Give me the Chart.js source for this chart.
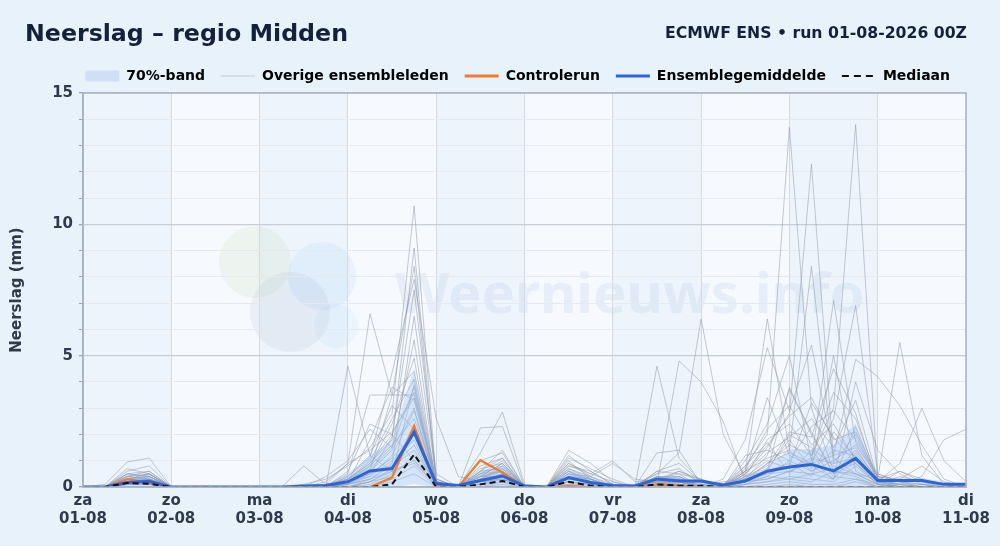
<!DOCTYPE html>
<html lang="nl">
<head>
<meta charset="utf-8">
<title>Neerslag – regio Midden</title>
<script src="https://cdn.jsdelivr.net/npm/chart.js@4.4.1/dist/chart.umd.min.js"></script>
<style>
  html, body { margin: 0; padding: 0; }
  body {
    width: 1000px; height: 546px; overflow: hidden; position: relative;
    background: #e8f2fb; font-family: "DejaVu Sans", sans-serif;
  }
  h1 {
    position: absolute; left: 25px; top: 19px; margin: 0;
    font-size: 23.7px; font-weight: bold; color: #15213a;
  }
  .run {
    position: absolute; right: 33px; top: 23px;
    font-size: 15.7px; font-weight: bold; color: #15213a;
  }
  .wrap { position: absolute; left: 0; top: 0; width: 1000px; height: 546px; }
</style>
</head>
<body>
<div class="wrap"><canvas id="myChart"></canvas></div>
<h1>Neerslag – regio Midden</h1>
<div class="run">ECMWF ENS • run 01-08-2026 00Z</div>
<script>
"use strict";

// hours since run start (01-08 00Z), 6-hourly
const hours = [0, 6, 12, 18, 24, 30, 36, 42, 48, 54, 60, 66, 72, 78, 84, 90, 96, 102, 108, 114,
  120, 126, 132, 138, 144, 150, 156, 162, 168, 174, 180, 186, 192, 198, 204, 210, 216, 222, 228, 234, 240];

const dayNames = ["za", "zo", "ma", "di", "wo", "do", "vr", "za", "zo", "ma", "di"];
const dayDates = ["01-08", "02-08", "03-08", "04-08", "05-08", "06-08", "07-08", "08-08", "09-08", "10-08", "11-08"];
const yLabels = [0, 5, 10, 15];

// mm per 6 hours
const meanRun = [0, 0, 0.17, 0.22, 0, 0, 0, 0, 0, 0, 0.04, 0.06, 0.2, 0.61, 0.7, 2.09, 0.13, 0.06, 0.25, 0.42,
  0.04, 0, 0.36, 0.17, 0.06, 0.04, 0.3, 0.23, 0.23, 0.08, 0.23, 0.6, 0.76, 0.86, 0.61, 1.09, 0.25, 0.25, 0.25, 0.1, 0.1];
const medianRun = [0, 0, 0.15, 0.12, 0, 0, 0, 0, 0, 0, 0, 0, 0, 0, 0.1, 1.24, 0, 0, 0.1, 0.23,
  0, 0, 0.2, 0.05, 0, 0, 0.1, 0.05, 0.05, 0, 0, 0, 0, 0, 0, 0, 0, 0, 0, 0, 0];
const controlRun = [0, 0, 0.3, 0.15, 0, 0, 0, 0, 0, 0, 0, 0, 0, 0, 0.36, 2.32, 0.05, 0, 1.02, 0.55,
  0, 0, 0.03, 0, 0, 0, 0.1, 0.05, 0, 0, 0, 0, 0, 0, 0, 0, 0, 0, 0, 0, 0];
const bandLow = [0, 0, 0, 0, 0, 0, 0, 0, 0, 0, 0, 0, 0, 0, 0, 0.1, 0, 0, 0, 0,
  0, 0, 0, 0, 0, 0, 0, 0, 0, 0, 0, 0, 0, 0, 0, 0, 0, 0, 0, 0, 0];
const bandHigh = [0, 0.05, 0.45, 0.45, 0, 0, 0, 0, 0, 0, 0.05, 0.1, 0.5, 1.2, 1.8, 4.5, 0.25, 0, 0.6, 0.8,
  0.05, 0, 0.7, 0.4, 0.1, 0.05, 0.4, 0.4, 0.2, 0.1, 0.4, 0.75, 1.45, 1.45, 1.6, 2.4, 0.3, 0.3, 0.35, 0.2, 0.1];

const members = [
  [0, 0.1, 0.95, 1.1, 0, 0, 0, 0, 0, 0, 0.1, 0.3, 0.8, 1.5, 2.8, 10.7, 0.3, 0, 0.4, 0.9, 0, 0, 0.5, 0.3, 0, 0, 0.3, 0.6, 0.2, 0, 0.3, 1.2, 3.7, 2.1, 0.5, 0.9, 0.2, 0, 0.1, 0, 0],
  [0, 0, 0.6, 0.8, 0, 0, 0, 0, 0, 0, 0, 0.1, 0.3, 0.9, 1.8, 9.1, 0.2, 0, 0.2, 0.5, 0, 0, 0.9, 0.4, 0, 0, 0.2, 0.1, 0, 0.1, 0.8, 2.0, 13.7, 3.0, 0.6, 0.4, 0, 0, 0, 0, 0],
  [0, 0, 0.5, 0.4, 0, 0, 0, 0, 0, 0, 0.8, 0.1, 0.2, 0.6, 3.5, 8.4, 0.1, 0, 0.3, 0.6, 0, 0, 1.4, 0.9, 0.2, 0, 0.1, 0.2, 0, 0, 0.5, 1.5, 2.8, 12.3, 1.1, 0.5, 0.3, 0.1, 0, 0, 0],
  [0, 0, 0.4, 0.6, 0, 0, 0, 0, 0, 0, 0, 0, 0.4, 1.1, 4.35, 7.9, 2.6, 0.4, 0.2, 0.3, 0, 0, 0.6, 0.2, 0, 0, 0.4, 0.3, 0.1, 0, 0.2, 0.9, 1.6, 1.2, 3.0, 13.8, 0.3, 0.6, 0.2, 0.1, 0],
  [0, 0, 0.3, 0.5, 0, 0, 0, 0, 0, 0, 0, 0, 4.6, 1.2, 0.6, 0.9, 0.1, 0, 1.3, 2.85, 0.1, 0, 0.3, 0.2, 0, 0.1, 0.5, 1.3, 6.4, 2.0, 0.4, 0.6, 2.0, 1.5, 0.8, 0.5, 0.1, 0, 0, 0, 0],
  [0, 0, 0.7, 0.5, 0, 0, 0, 0, 0, 0, 0, 0.2, 0.9, 6.6, 3.5, 3.5, 0.2, 0, 2.25, 2.3, 0, 0, 0.4, 0.1, 0, 0, 0.2, 0.1, 0, 0, 0.6, 6.4, 1.4, 8.4, 0.9, 1.1, 0.2, 0, 0, 0, 0],
  [0, 0, 0.2, 0.3, 0, 0, 0, 0, 0, 0, 0, 0, 0.2, 0.5, 1.9, 7.5, 0.5, 0, 0.1, 0.4, 0, 0, 1.2, 0.6, 0.1, 0, 4.6, 1.1, 0.2, 0, 1.0, 2.4, 5.0, 1.0, 7.1, 1.7, 0.4, 0, 0, 0, 0],
  [0, 0, 0.3, 0.2, 0, 0, 0, 0, 0, 0, 0, 0, 0.1, 0.3, 0.9, 6.5, 0.3, 0, 0.5, 1.0, 0, 0, 0.2, 0.1, 0, 0, 0.1, 4.8, 4.0, 2.5, 0.2, 0.3, 0.6, 0.9, 2.6, 6.9, 0.5, 0.2, 0, 0, 0],
  [0, 0, 0.4, 0.3, 0, 0, 0, 0, 0, 0, 0, 0, 0.3, 0.8, 2.4, 4.9, 0.1, 0, 0.6, 1.4, 0, 0, 0.8, 0.5, 1.0, 0.2, 0.3, 0.2, 0, 0.3, 1.8, 5.3, 2.9, 5.4, 1.2, 4.86, 4.2, 3.1, 1.6, 0.3, 0],
  [0, 0, 0.2, 0.3, 0, 0, 0, 0, 0, 0, 0, 0, 0.5, 3.5, 3.5, 4.4, 0.2, 0, 0.8, 1.1, 0, 0, 0.3, 0.2, 0, 0, 0.3, 0.4, 0, 0, 0.3, 0.6, 3.8, 2.0, 0.5, 1.4, 0.3, 5.5, 1.2, 0.1, 0],
  [0, 0, 0.3, 0.4, 0, 0, 0, 0, 0, 0, 0, 0.4, 1.0, 2.2, 1.5, 3.8, 0, 0, 0.3, 0.7, 0, 0, 1.0, 0.3, 0, 0, 0.2, 0.2, 0, 0, 0.1, 0.4, 1.0, 0.6, 1.4, 1.2, 0.2, 0.9, 3.0, 1.0, 0.2],
  [0, 0, 0.5, 0.6, 0, 0, 0, 0, 0, 0, 0, 0, 0.2, 1.8, 3.8, 3.3, 0.1, 0, 0.4, 0.6, 0, 0, 0.5, 0.4, 0.9, 0.3, 0.2, 0.3, 0.2, 0, 0.5, 3.4, 1.2, 0.8, 0.3, 2.3, 0.2, 0.1, 0.4, 1.8, 2.2],
  [0, 0, 0.1, 0.2, 0, 0, 0, 0, 0, 0, 0, 0, 0.1, 0.4, 1.2, 2.9, 0.2, 0, 0.2, 0.5, 0, 0, 0.2, 0.1, 0, 0, 0.3, 0.5, 0.3, 0, 0.4, 0.8, 2.1, 1.9, 4.5, 2.8, 0.1, 0, 0, 0, 0],
  [0, 0, 0.3, 0.2, 0, 0, 0, 0, 0, 0, 0, 0, 0, 0.2, 0.7, 2.3, 0, 0, 1.0, 1.3, 0, 0, 0.6, 0.2, 0, 0, 1.3, 1.4, 0.1, 0, 0.8, 1.7, 0.5, 1.4, 0.4, 0.3, 0.1, 0.4, 0.2, 0, 0],
  [0, 0, 0.2, 0.3, 0, 0, 0, 0, 0, 0, 0, 0, 0.3, 0.7, 1.5, 5.6, 0, 0, 0.2, 0.5, 0, 0, 0.7, 0.3, 0, 0, 0.4, 0.2, 0, 0, 0.2, 0.7, 1.8, 0.7, 5.0, 0.6, 0.2, 0, 0, 0, 0],
  [0, 0, 0.1, 0.1, 0, 0, 0, 0, 0, 0, 0, 0, 0, 0.1, 0.5, 3.9, 0.1, 0, 0.3, 0.8, 0, 0, 0.4, 0.3, 0, 0, 0.2, 0.3, 0, 0.2, 0.3, 0.5, 0.8, 3.2, 1.9, 0.9, 0.1, 0.6, 0.3, 0.1, 0],
  [0, 0, 0.2, 0.4, 0, 0, 0, 0, 0, 0, 0, 0, 0.1, 0.3, 0.8, 1.6, 0, 0, 0.1, 0.3, 0, 0, 0.2, 0.1, 0, 0, 0.1, 0.1, 0, 0, 0.2, 0.4, 0.3, 0.5, 0.3, 4.0, 1.4, 0.5, 0.1, 0, 0],
  [0, 0, 0.3, 0.2, 0, 0, 0, 0, 0, 0, 0, 0, 0.2, 0.5, 1.1, 2.0, 0, 0, 0.4, 0.4, 0, 0, 0.3, 0.2, 0, 0, 0.2, 0.4, 0, 0, 0.4, 1.0, 0.7, 1.1, 0.9, 2.0, 0.2, 0.3, 0.8, 0.2, 0],
  [0, 0, 0.1, 0.2, 0, 0, 0, 0, 0, 0, 0, 0, 0, 0.2, 0.4, 1.2, 0, 0, 0.1, 0.2, 0, 0, 0.1, 0, 0, 0, 0.1, 0.1, 0, 0, 0.1, 0.2, 0.4, 0.3, 0.2, 0.8, 0.1, 0, 0, 0, 0],
  [0, 0, 0.2, 0.1, 0, 0, 0, 0, 0, 0, 0, 0, 0, 0, 0.3, 0.8, 0, 0, 0, 0.1, 0, 0, 0.1, 0.1, 0, 0, 0, 0, 0, 0, 0, 0.1, 0.2, 0.1, 0.1, 0.3, 0, 0, 0, 0, 0],
  [0, 0, 0.4, 0.5, 0, 0, 0, 0, 0, 0, 0, 0, 0.6, 2.4, 2.0, 1.0, 0.2, 0, 0.7, 0.9, 0, 0, 0.8, 0.6, 0.1, 0, 0.6, 0.5, 0, 0.1, 0.6, 1.1, 1.4, 0.6, 1.0, 1.6, 0.4, 0.2, 0.1, 0, 0],
  [0, 0, 0.2, 0.2, 0, 0, 0, 0, 0, 0, 0, 0, 0.1, 0.6, 1.4, 3.0, 0, 0, 0.3, 0.4, 0, 0, 0.4, 0.3, 0, 0, 0.2, 0.2, 0, 0, 0.3, 0.6, 0.9, 0.4, 2.1, 1.1, 0.3, 0, 0, 0, 0],
  [0, 0, 0.1, 0.1, 0, 0, 0, 0, 0, 0, 0, 0, 0, 0, 0.2, 0.5, 0, 0, 0, 0.2, 0, 0, 0, 0, 0, 0, 0, 0.1, 0, 0, 0, 0, 0.1, 0, 0, 0.2, 0, 0, 0, 0, 0],
  [0, 0, 0.3, 0.3, 0, 0, 0, 0, 0, 0, 0, 0, 0, 0.2, 0.6, 2.4, 0.1, 0, 0.5, 0.6, 0, 0, 0.5, 0.2, 0, 0, 0.3, 0.2, 0, 0, 0.2, 0.3, 0.6, 1.0, 0.3, 1.3, 0.2, 0.1, 0, 0, 0],
  [0, 0, 0.1, 0.2, 0, 0, 0, 0, 0, 0, 0, 0, 0.2, 0.4, 1.0, 1.8, 0, 0, 0.2, 0.3, 0, 0, 0.2, 0.1, 0, 0, 0.1, 0.3, 0, 0, 0.1, 0.2, 0.3, 0.2, 0.6, 0.5, 0.1, 0, 0, 0, 0],
  [0, 0, 0.3, 0.4, 0, 0, 0, 0, 0, 0, 0, 0.1, 0.9, 1.4, 2.1, 3.4, 0.2, 0, 0.5, 0.8, 0, 0, 0.6, 0.3, 0, 0, 0.3, 0.3, 0, 0, 0.7, 2.2, 3.1, 1.6, 2.4, 1.0, 0.2, 0, 0, 0, 0],
  [0, 0, 0.2, 0.3, 0, 0, 0, 0, 0, 0, 0, 0, 0.3, 1.0, 2.6, 4.1, 0.1, 0, 0.4, 0.6, 0, 0, 0.3, 0.2, 0, 0, 0.2, 0.6, 0.3, 0, 0.5, 1.3, 1.9, 2.6, 1.5, 3.3, 0.3, 0.1, 0, 0, 0],
  [0, 0, 0.4, 0.3, 0, 0, 0, 0, 0, 0, 0, 0, 0.2, 0.8, 1.6, 2.6, 0.3, 0, 0.6, 1.1, 0, 0, 0.7, 0.4, 0.1, 0, 0.5, 0.7, 0.1, 0, 1.2, 1.4, 1.0, 2.3, 2.9, 1.8, 0.5, 0.2, 0, 0, 0],
  [0, 0, 0.2, 0.2, 0, 0, 0, 0, 0, 0, 0, 0, 0.1, 0.5, 0.8, 1.4, 0.1, 0, 0.3, 0.5, 0, 0, 0.3, 0.2, 0, 0, 0.2, 0.2, 0, 0, 0.3, 0.9, 1.3, 0.9, 1.2, 1.5, 0.2, 0.1, 0, 0, 0],
  [0, 0, 0.3, 0.5, 0, 0, 0, 0, 0, 0, 0, 0, 0.4, 1.2, 3.1, 2.2, 0.2, 0, 0.6, 0.7, 0, 0, 0.9, 0.5, 0.2, 0, 0.4, 0.4, 0, 0, 0.4, 1.8, 2.4, 1.2, 3.6, 2.6, 0.3, 0.2, 0.1, 0, 0],
  [0, 0, 0.1, 0.1, 0, 0, 0, 0, 0, 0, 0, 0, 0, 0.3, 0.6, 1.0, 0, 0, 0.2, 0.3, 0, 0, 0.2, 0.1, 0, 0, 0.1, 0.2, 0, 0, 0.2, 0.5, 0.6, 0.5, 0.7, 0.9, 0.1, 0, 0, 0, 0],
  [0, 0, 0.5, 0.4, 0, 0, 0, 0, 0, 0, 0, 0, 0.3, 0.9, 2.0, 3.6, 0.2, 0, 0.4, 0.9, 0, 0, 1.1, 0.7, 0.3, 0, 0.6, 0.9, 0.2, 0, 0.6, 1.6, 2.7, 3.4, 1.8, 2.1, 0.4, 0.3, 0.2, 0, 0],
];

const FONT = "'DejaVu Sans', sans-serif";
const TEXT = "#2f3b4c";

function toPoints(values) {
  return hours.map((h, i) => ({ x: h, y: values[i] }));
}

const backdrop = {
  id: "backdrop",
  beforeDraw(chart) {
    const ctx = chart.ctx;
    const a = chart.chartArea;
    const x = chart.scales.x;
    ctx.save();
    ctx.fillStyle = "#f6f9fe";
    ctx.fillRect(a.left, a.top, a.width, a.height);
    // every other day a touch darker
    ctx.fillStyle = "rgba(205, 222, 244, 0.18)";
    for (let d = 0; d < dayNames.length - 1; d += 2) {
      const x0 = x.getPixelForValue(d * 24);
      const x1 = x.getPixelForValue((d + 1) * 24);
      ctx.fillRect(x0, a.top, x1 - x0, a.height);
    }
    // watermark
    ctx.globalAlpha = 0.1;
    ctx.fillStyle = "#9ccf7a";
    ctx.beginPath(); ctx.arc(255, 262, 36, 0, Math.PI * 2); ctx.fill();
    ctx.fillStyle = "#6fb4ea";
    ctx.beginPath(); ctx.arc(322, 276, 34, 0, Math.PI * 2); ctx.fill();
    ctx.fillStyle = "#7f8fb0";
    ctx.beginPath(); ctx.arc(290, 312, 40, 0, Math.PI * 2); ctx.fill();
    ctx.fillStyle = "#8cc6f2";
    ctx.beginPath(); ctx.arc(336, 326, 22, 0, Math.PI * 2); ctx.fill();
    ctx.globalAlpha = 0.12;
    ctx.fillStyle = "#7fa6d6";
    ctx.font = "bold 56px 'Noto Sans', sans-serif";
    ctx.textBaseline = "alphabetic";
    ctx.fillText("Weernieuws.info", 395, 313);
    ctx.restore();
  },
  afterDraw(chart) {
    const ctx = chart.ctx;
    const a = chart.chartArea;
    ctx.save();
    ctx.strokeStyle = "#a9b3c1";
    ctx.lineWidth = 1.5;
    ctx.strokeRect(a.left, a.top, a.width, a.height);
    ctx.restore();
  },
};

const datasets = [];

datasets.push({
  label: "band-onder",
  data: toPoints(bandLow),
  borderWidth: 0,
  pointRadius: 0,
  fill: false,
  order: 5,
});
datasets.push({
  label: "70%-band",
  data: toPoints(bandHigh),
  borderWidth: 0,
  pointRadius: 0,
  backgroundColor: "rgba(150, 190, 240, 0.35)",
  fill: "-1",
  order: 5,
});

for (let m = 0; m < members.length; m++) {
  datasets.push({
    label: "Overige ensembleleden",
    data: toPoints(members[m]),
    borderColor: "rgba(140, 150, 165, 0.5)",
    borderWidth: 1,
    pointRadius: 0,
    fill: false,
    order: 10,
  });
}

datasets.push({
  label: "Controlerun",
  data: toPoints(controlRun),
  borderColor: "#ed7d31",
  borderWidth: 2.2,
  pointRadius: 0,
  fill: false,
  order: 3,
});
datasets.push({
  label: "Ensemblegemiddelde",
  data: toPoints(meanRun),
  borderColor: "#2f64d8",
  borderWidth: 3,
  pointRadius: 0,
  fill: false,
  order: 2,
});
datasets.push({
  label: "Mediaan",
  data: toPoints(medianRun),
  borderColor: "#111111",
  borderWidth: 2,
  borderDash: [6, 4],
  pointRadius: 0,
  fill: false,
  order: 1,
});

const config = {
  type: "line",
  data: { datasets: datasets },
  plugins: [backdrop],
  options: {
    responsive: true,
    maintainAspectRatio: false,
    animation: false,
    layout: { padding: { top: 53, left: 8, right: 34, bottom: 13 } },
    plugins: {
      tooltip: { enabled: false },
      legend: {
        position: "top",
        align: "end",
        labels: {
          usePointStyle: true,
          pointStyleWidth: 34,
          boxHeight: 11,
          padding: 16,
          color: "#222b38",
          font: { family: FONT, size: 14, weight: "bold" },
          generateLabels: () => [
            { text: "70%-band", fillStyle: "#cfe0f6", strokeStyle: "#cfe0f6", lineWidth: 0, pointStyle: "rect" },
            { text: "Overige ensembleleden", fillStyle: "transparent", strokeStyle: "#c3c9d2", lineWidth: 1.2, pointStyle: "line" },
            { text: "Controlerun", fillStyle: "transparent", strokeStyle: "#ed7d31", lineWidth: 3, pointStyle: "line" },
            { text: "Ensemblegemiddelde", fillStyle: "transparent", strokeStyle: "#2f64d8", lineWidth: 3, pointStyle: "line" },
            { text: "Mediaan", fillStyle: "transparent", strokeStyle: "#111111", lineWidth: 2, lineDash: [7, 5], pointStyle: "line" },
          ],
        },
      },
    },
    scales: {
      x: {
        type: "linear",
        min: 0,
        max: 240,
        ticks: {
          stepSize: 24,
          autoSkip: false,
          maxRotation: 0,
          padding: 5,
          color: TEXT,
          font: { family: FONT, size: 15, weight: "bold" },
          callback: (v) => [dayNames[v / 24], dayDates[v / 24]],
        },
        grid: { color: "#d3dae4", drawTicks: false },
        border: { color: "#a9b3c1", width: 1.5 },
      },
      y: {
        min: 0,
        max: 15,
        ticks: {
          stepSize: 1,
          autoSkip: false,
          padding: 6,
          color: TEXT,
          font: { family: FONT, size: 15, weight: "bold" },
          callback: (v) => (yLabels.includes(v) ? String(v) : ""),
        },
        grid: {
          color: (c) => (c.tick && c.tick.value % 5 === 0 ? "#c5cdd8" : "#e4e9f0"),
          lineWidth: (c) => (c.tick && c.tick.value % 5 === 0 ? 1.3 : 1),
          tickColor: "#9aa4b2",
          tickLength: 4,
        },
        border: { color: "#a9b3c1", width: 1.5 },
        title: {
          display: true,
          text: "Neerslag (mm)",
          color: TEXT,
          font: { family: FONT, size: 15, weight: "bold" },
          padding: { top: 0, bottom: 4 },
        },
        afterFit: (scale) => { scale.width = 75; },
      },
    },
  },
};

const canvasChart = document.getElementById("myChart");
new Chart(canvasChart, config);
</script>
</body>
</html>
